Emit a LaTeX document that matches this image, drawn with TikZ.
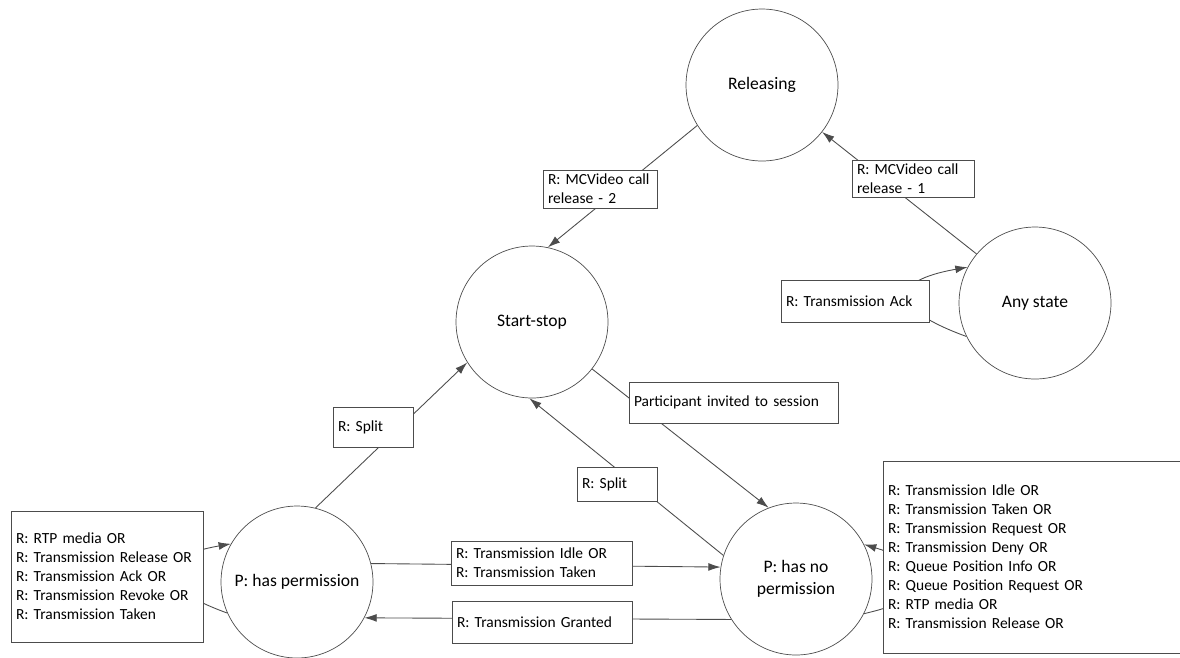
\documentclass[tikz,border=0pt]{standalone}
\usepackage{fontspec}
\setmainfont{Carlito}
\usetikzlibrary{arrows.meta}
\frenchspacing

\begin{document}
\begin{tikzpicture}[
  x=0.02cm, y=-0.02cm,
  state/.style={draw=black!70, circle, minimum size=3.04cm, inner sep=0pt, align=center,
    font=\fontsize{10}{12.5}\selectfont},
  lbl/.style={draw=black!70, fill=white, align=left, inner xsep=0.1cm, inner ysep=0pt,
    font=\fontsize{8.8}{10.8}\selectfont},
  trans/.style={draw=black!70, line width=0.5pt, -{Latex[length=7pt,width=4.5pt]}}
]
  \clip (0,0) rectangle (1180,657);
  \useasboundingbox (0,0) rectangle (1180,657);

  % states
  \node[state] (rel) at (762,85) {Releasing};
  \node[state] (start) at (532,322) {Start-stop};
  \node[state] (any) at (1035,303) {Any state};
  \node[state] (perm) at (297,582) {P: has permission};
  \node[state] (noperm) at (796,579) {P: has no\\permission};

  % transitions
  \draw[trans] (rel.212) -- (start.78);
  \draw[trans] (any.140) -- (rel.322);
  \draw[trans] (any.206) to[out=160, in=190, looseness=3] (any.152);
  \draw[trans] (perm.76) -- (start.212);
  \draw[trans] (noperm.162) -- (start.268);
  \draw[trans] (start.322) -- (noperm.111);
  \draw[trans] (perm.14) -- (noperm.171);
  \draw[trans] (noperm.212) -- (perm.332);
  \draw[trans] (perm.204) to[out=160, in=190, looseness=3] (perm.150);
  \draw[trans] (noperm.333) to[out=13, in=343, looseness=3] (noperm.27);

  % labels on the transitions
  \node[lbl, text width=2.08cm, minimum height=0.76cm] (relTwo) at (600,189)
    {R: MCVideo call\\release - 2};
  \node[lbl, text width=2.24cm, minimum height=0.74cm] (relOne) at (913,178.5)
    {R: MCVideo call\\release - 1};
  \node[lbl, text width=2.76cm, minimum height=0.84cm] (ack) at (855,301)
    {R: Transmission Ack};
  \node[lbl, text width=1.4cm, minimum height=0.8cm] (splitA) at (373,427)
    {R: Split};
  \node[lbl, text width=3.98cm, minimum height=0.82cm] (invite) at (733.5,402.5)
    {Participant invited to session};
  \node[lbl, text width=1.4cm, minimum height=0.68cm] (splitB) at (617,484)
    {R: Split};
  \node[lbl, text width=3.42cm, minimum height=0.88cm] (idle) at (541.5,563)
    {R: Transmission Idle OR\\R: Transmission Taken};
  \node[lbl, text width=3.4cm, minimum height=0.84cm] (granted) at (542,622)
    {R: Transmission Granted};
  \node[lbl, text width=3.64cm, minimum height=2.62cm] (permLoop) at (107,576.5)
    {R: RTP media OR\\R: Transmission Release OR\\R: Transmission Ack OR\\
     R: Transmission Revoke OR\\R: Transmission Taken};
  \node[lbl, text width=6.14cm, minimum height=3.84cm] (nopermLoop) at (1041.5,557)
    {R: Transmission Idle OR\\R: Transmission Taken OR\\R: Transmission Request OR\\
     R: Transmission Deny OR\\R: Queue Position Info OR\\R: Queue Position Request OR\\
     R: RTP media OR\\R: Transmission Release OR};
\end{tikzpicture}
\end{document}
